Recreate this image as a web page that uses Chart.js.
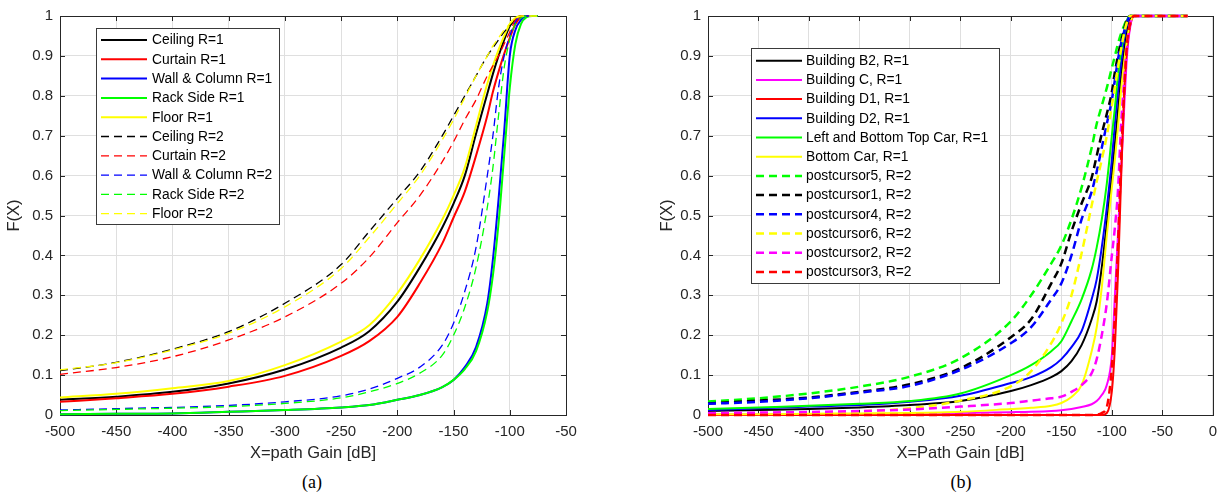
<!DOCTYPE html>
<html>
<head>
<meta charset="utf-8">
<script src="https://cdn.jsdelivr.net/npm/chart.js@4.4.1/dist/chart.umd.min.js"></script>
<style>
  body { margin: 0; background: #fff; width: 1225px; height: 496px; position: relative; overflow: hidden; }
  .panel { position: absolute; top: 0; }
  .caption { position: absolute; top: 472px; font-family: "Liberation Serif", "Times New Roman", serif; font-size: 18px; color: #000; transform: translateX(-50%); }
</style>
</head>
<body>
<div class="panel" style="left:0"><canvas id="chartA" width="612" height="470"></canvas></div>
<div class="panel" style="left:612px"><canvas id="chartB" width="613" height="470"></canvas></div>
<div class="caption" style="left:312px">(a)</div>
<div class="caption" style="left:961px">(b)</div>
<script>
// path gain grid (dB) for panel (a)
const xA = [-500, -450, -400, -350, -300, -250, -225, -200, -180, -160, -150, -140, -130, -120, -115, -110, -105, -100, -95, -90, -85, -80, -75];

const ceiling1 = [0.038, 0.046, 0.058, 0.079, 0.114, 0.169, 0.21, 0.284, 0.37, 0.47, 0.53, 0.6, 0.705, 0.805, 0.855, 0.9, 0.94, 0.975, 0.993, 1, 1, 1, 1];
const curtain1 = [0.033, 0.042, 0.053, 0.071, 0.098, 0.148, 0.185, 0.246, 0.33, 0.43, 0.495, 0.56, 0.65, 0.75, 0.81, 0.86, 0.905, 0.945, 0.98, 0.997, 1, 1, 1];
const wall1 = [0.002, 0.003, 0.004, 0.008, 0.0125, 0.019, 0.025, 0.038, 0.05, 0.07, 0.088, 0.12, 0.17, 0.28, 0.39, 0.54, 0.71, 0.9, 0.965, 0.99, 1, 1, 1];
const rack1 = [0.002, 0.003, 0.004, 0.008, 0.0125, 0.019, 0.025, 0.038, 0.05, 0.07, 0.088, 0.115, 0.16, 0.26, 0.35, 0.48, 0.65, 0.82, 0.93, 0.98, 0.997, 1, 1];
const floor1 = [0.044, 0.053, 0.067, 0.085, 0.125, 0.184, 0.225, 0.305, 0.39, 0.49, 0.55, 0.62, 0.725, 0.83, 0.875, 0.915, 0.95, 0.98, 0.995, 1, 1, 1, 1];
const ceiling2 = [0.111, 0.132, 0.165, 0.209, 0.28, 0.377, 0.46, 0.543, 0.61, 0.7, 0.75, 0.8, 0.85, 0.9, 0.92, 0.94, 0.96, 0.975, 0.99, 1, 1, 1, 1];
const curtain2 = [0.102, 0.119, 0.146, 0.188, 0.246, 0.33, 0.395, 0.482, 0.55, 0.635, 0.685, 0.74, 0.79, 0.85, 0.875, 0.9, 0.93, 0.96, 0.99, 1, 1, 1, 1];
const wall2 = [0.0125, 0.016, 0.019, 0.024, 0.033, 0.048, 0.065, 0.092, 0.12, 0.175, 0.23, 0.31, 0.42, 0.6, 0.7, 0.82, 0.9, 0.95, 0.985, 1, 1, 1, 1];
const rack2 = [0.011, 0.014, 0.017, 0.021, 0.029, 0.043, 0.058, 0.079, 0.105, 0.15, 0.2, 0.27, 0.37, 0.52, 0.62, 0.75, 0.87, 0.94, 0.98, 0.995, 1, 1, 1];
const floor2 = [0.113, 0.131, 0.163, 0.205, 0.271, 0.367, 0.445, 0.53, 0.6, 0.69, 0.74, 0.795, 0.85, 0.9, 0.925, 0.945, 0.965, 0.98, 0.993, 1, 1, 1, 1];

// path gain grid (dB) for panel (b)
const xB = [-500, -450, -400, -350, -300, -250, -200, -180, -160, -150, -140, -130, -120, -115, -110, -105, -100, -97, -94, -91, -88, -85, -82, -78, -25];

const buildingB2 = [0.01, 0.0125, 0.015, 0.019, 0.025, 0.035, 0.06, 0.075, 0.095, 0.11, 0.135, 0.175, 0.24, 0.285, 0.37, 0.48, 0.6, 0.68, 0.76, 0.845, 0.91, 0.96, 0.99, 1, 1];
const buildingC = [0.001, 0.001, 0.002, 0.002, 0.003, 0.005, 0.007, 0.008, 0.01, 0.012, 0.015, 0.02, 0.027, 0.035, 0.05, 0.075, 0.15, 0.3, 0.45, 0.6, 0.76, 0.9, 0.97, 1, 1];
const buildingD1 = [0, 0, 0, 0, 0, 0, 0, 0, 0, 0, 0, 0, 0, 0, 0, 0.005, 0.06, 0.17, 0.35, 0.58, 0.8, 0.92, 0.975, 1, 1];
const buildingD2 = [0.0125, 0.017, 0.021, 0.025, 0.033, 0.048, 0.08, 0.095, 0.12, 0.14, 0.17, 0.21, 0.29, 0.34, 0.42, 0.52, 0.64, 0.73, 0.81, 0.88, 0.94, 0.98, 1, 1, 1];
const topCar = [0.015, 0.019, 0.023, 0.028, 0.035, 0.054, 0.1, 0.125, 0.16, 0.185, 0.235, 0.29, 0.365, 0.42, 0.49, 0.58, 0.7, 0.77, 0.85, 0.91, 0.955, 0.99, 1, 1, 1];
const bottomCar = [0.002, 0.002, 0.003, 0.004, 0.005, 0.008, 0.015, 0.018, 0.023, 0.03, 0.045, 0.075, 0.16, 0.22, 0.32, 0.45, 0.57, 0.64, 0.72, 0.81, 0.88, 0.94, 0.98, 1, 1];
const post5 = [0.034, 0.042, 0.054, 0.071, 0.096, 0.142, 0.235, 0.3, 0.38, 0.425, 0.49, 0.57, 0.67, 0.73, 0.775, 0.82, 0.87, 0.9, 0.93, 0.955, 0.975, 0.993, 1, 1, 1];
const post1 = [0.029, 0.036, 0.044, 0.058, 0.077, 0.117, 0.195, 0.24, 0.33, 0.38, 0.46, 0.53, 0.595, 0.65, 0.705, 0.755, 0.81, 0.86, 0.9, 0.935, 0.965, 0.99, 1, 1, 1];
const post4 = [0.028, 0.033, 0.042, 0.056, 0.073, 0.113, 0.18, 0.22, 0.29, 0.33, 0.4, 0.49, 0.56, 0.61, 0.67, 0.73, 0.79, 0.84, 0.89, 0.93, 0.96, 0.985, 1, 1, 1];
const post6 = [0.003, 0.004, 0.006, 0.009, 0.017, 0.036, 0.072, 0.11, 0.18, 0.23, 0.3, 0.405, 0.525, 0.585, 0.64, 0.7, 0.775, 0.82, 0.87, 0.915, 0.955, 0.985, 1, 1, 1];
const post2 = [0.005, 0.006, 0.0075, 0.01, 0.014, 0.021, 0.03, 0.036, 0.042, 0.046, 0.058, 0.075, 0.105, 0.14, 0.2, 0.28, 0.4, 0.47, 0.56, 0.72, 0.83, 0.92, 0.98, 1, 1];
const post3 = [0, 0, 0, 0, 0, 0, 0, 0, 0, 0, 0, 0, 0, 0.001, 0.005, 0.02, 0.12, 0.25, 0.42, 0.63, 0.8, 0.93, 0.98, 1, 1];

const FONT = '"Liberation Sans", Arial, sans-serif';
const AXIS_COLOR = '#262626';
const GRID_COLOR = '#dfdfdf';

// turn one x grid + one y array into a line dataset
function curve(label, xs, ys, color, width, dash, idx) {
    return {
        label,
        data: xs.map((x, i) => ({ x, y: ys[i] })),
        borderColor: color,
        borderWidth: width,
        borderDash: dash,
        fill: false,
        clip: false,
        order: -idx // later curves sit on top
    };
}

// axes box with inward tick marks on all four sides
const frame = {
    id: 'frame',
    beforeDatasetsDraw(chart) {
        const { ctx, chartArea: a, scales } = chart;
        ctx.save();
        ctx.strokeStyle = AXIS_COLOR;
        ctx.lineWidth = 1;
        ctx.beginPath();
        scales.x.ticks.forEach(t => {
            const px = Math.round(scales.x.getPixelForValue(t.value)) + 0.5;
            ctx.moveTo(px, a.bottom); ctx.lineTo(px, a.bottom - 5);
            ctx.moveTo(px, a.top); ctx.lineTo(px, a.top + 5);
        });
        scales.y.ticks.forEach(t => {
            const py = Math.round(scales.y.getPixelForValue(t.value)) + 0.5;
            ctx.moveTo(a.left, py); ctx.lineTo(a.left + 5, py);
            ctx.moveTo(a.right, py); ctx.lineTo(a.right - 5, py);
        });
        ctx.stroke();
        ctx.strokeRect(Math.round(a.left) + 0.5, Math.round(a.top) + 0.5,
            Math.round(a.right - a.left), Math.round(a.bottom - a.top));
        ctx.restore();
    }
};

// boxed legend placed inside the axes
const boxLegend = {
    id: 'boxLegend',
    afterDraw(chart, args, opts) {
        const ctx = chart.ctx;
        ctx.save();
        ctx.fillStyle = '#fff';
        ctx.fillRect(opts.left, opts.top, opts.width, opts.height);
        ctx.strokeStyle = '#3a3a3a';
        ctx.lineWidth = 1;
        ctx.strokeRect(opts.left + 0.5, opts.top + 0.5, opts.width, opts.height);
        ctx.font = opts.fontSize + 'px ' + FONT;
        ctx.textBaseline = 'middle';
        chart.data.datasets.forEach((ds, i) => {
            const y = opts.top + opts.firstRow + i * opts.rowGap;
            ctx.beginPath();
            ctx.setLineDash(ds.borderDash || []);
            ctx.strokeStyle = ds.borderColor;
            ctx.lineWidth = ds.borderWidth;
            ctx.moveTo(opts.left + 5, y);
            ctx.lineTo(opts.left + 51, y);
            ctx.stroke();
            ctx.setLineDash([]);
            ctx.fillStyle = '#000';
            ctx.fillText(ds.label, opts.left + opts.textIndent, y + 0.5);
        });
        ctx.restore();
    }
};

function makeOptions(cfg) {
    return {
        responsive: false,
        animation: false,
        layout: { padding: { top: 16, right: cfg.padRight, left: 0, bottom: 0 } },
        elements: { point: { radius: 0 }, line: { cubicInterpolationMode: 'monotone' } },
        plugins: {
            legend: { display: false },
            tooltip: { enabled: false },
            boxLegend: cfg.legend
        },
        scales: {
            x: {
                type: 'linear',
                min: cfg.xMin,
                max: cfg.xMax,
                ticks: { stepSize: 50, padding: 8, color: AXIS_COLOR, font: { family: FONT, size: 15 }, maxRotation: 0, autoSkip: false },
                grid: { color: GRID_COLOR, drawTicks: false },
                border: { display: false },
                title: { display: true, text: cfg.xTitle, color: AXIS_COLOR, font: { family: FONT, size: 16.5 }, padding: { top: 0, bottom: 7 } },
                afterFit: s => { s.height = 55; }
            },
            y: {
                type: 'linear',
                min: 0,
                max: 1,
                ticks: {
                    stepSize: 0.1, padding: 7, color: AXIS_COLOR, font: { family: FONT, size: 15 },
                    callback: v => String(Math.round(v * 10) / 10)
                },
                grid: { color: GRID_COLOR, drawTicks: false },
                border: { display: false },
                title: { display: true, text: 'F(X)', color: AXIS_COLOR, font: { family: FONT, size: 16.5 }, padding: { top: cfg.yTitlePad, bottom: 0 } },
                afterFit: s => { s.width = cfg.yWidth; }
            }
        }
    };
}

const dashA = [8, 5];
const seriesA = [
    curve('Ceiling R=1', xA, ceiling1, '#000000', 2, [], 0),
    curve('Curtain R=1', xA, curtain1, '#ff0000', 2, [], 1),
    curve('Wall & Column R=1', xA, wall1, '#0000ff', 2, [], 2),
    curve('Rack Side R=1', xA, rack1, '#00ff00', 2, [], 3),
    curve('Floor R=1', xA, floor1, '#ffff00', 2, [], 4),
    curve('Ceiling R=2', xA, ceiling2, '#000000', 1.3, dashA, 5),
    curve('Curtain R=2', xA, curtain2, '#ff0000', 1.3, dashA, 6),
    curve('Wall & Column R=2', xA, wall2, '#0000ff', 1.3, dashA, 7),
    curve('Rack Side R=2', xA, rack2, '#00ff00', 1.3, dashA, 8),
    curve('Floor R=2', xA, floor2, '#ffff00', 1.3, dashA, 9)
];

const dashB = [8, 5];
const seriesB = [
    curve('Building B2, R=1', xB, buildingB2, '#000000', 2, [], 0),
    curve('Building C, R=1', xB, buildingC, '#ff00ff', 2, [], 1),
    curve('Building D1, R=1', xB, buildingD1, '#ff0000', 2, [], 2),
    curve('Building D2, R=1', xB, buildingD2, '#0000ff', 2, [], 3),
    curve('Left and Bottom Top Car, R=1', xB, topCar, '#00ff00', 2, [], 4),
    curve('Bottom Car, R=1', xB, bottomCar, '#ffff00', 2, [], 5),
    curve('postcursor5, R=2', xB, post5, '#00ff00', 2.5, dashB, 6),
    curve('postcursor1, R=2', xB, post1, '#000000', 2.5, dashB, 7),
    curve('postcursor4, R=2', xB, post4, '#0000ff', 2.5, dashB, 8),
    curve('postcursor6, R=2', xB, post6, '#ffff00', 2.5, dashB, 9),
    curve('postcursor2, R=2', xB, post2, '#ff00ff', 2.5, dashB, 10),
    curve('postcursor3, R=2', xB, post3, '#ff0000', 2.5, dashB, 11)
];

new Chart(document.getElementById('chartA'), {
    type: 'line',
    data: { datasets: seriesA },
    options: makeOptions({
        xMin: -500, xMax: -50, padRight: 46, yWidth: 60, yTitlePad: 5,
        xTitle: 'X=path Gain [dB]',
        legend: { left: 96, top: 28, width: 183, height: 196, firstRow: 12, rowGap: 19.3, textIndent: 56, fontSize: 13.8 }
    }),
    plugins: [frame, boxLegend]
});

new Chart(document.getElementById('chartB'), {
    type: 'line',
    data: { datasets: seriesB },
    options: makeOptions({
        xMin: -500, xMax: 0, padRight: 8, yWidth: 96, yTitlePad: 46,
        xTitle: 'X=Path Gain [dB]',
        legend: { left: 139, top: 48, width: 248, height: 235, firstRow: 12.7, rowGap: 19.2, textIndent: 55, fontSize: 13.8 }
    }),
    plugins: [frame, boxLegend]
});
</script>
</body>
</html>
